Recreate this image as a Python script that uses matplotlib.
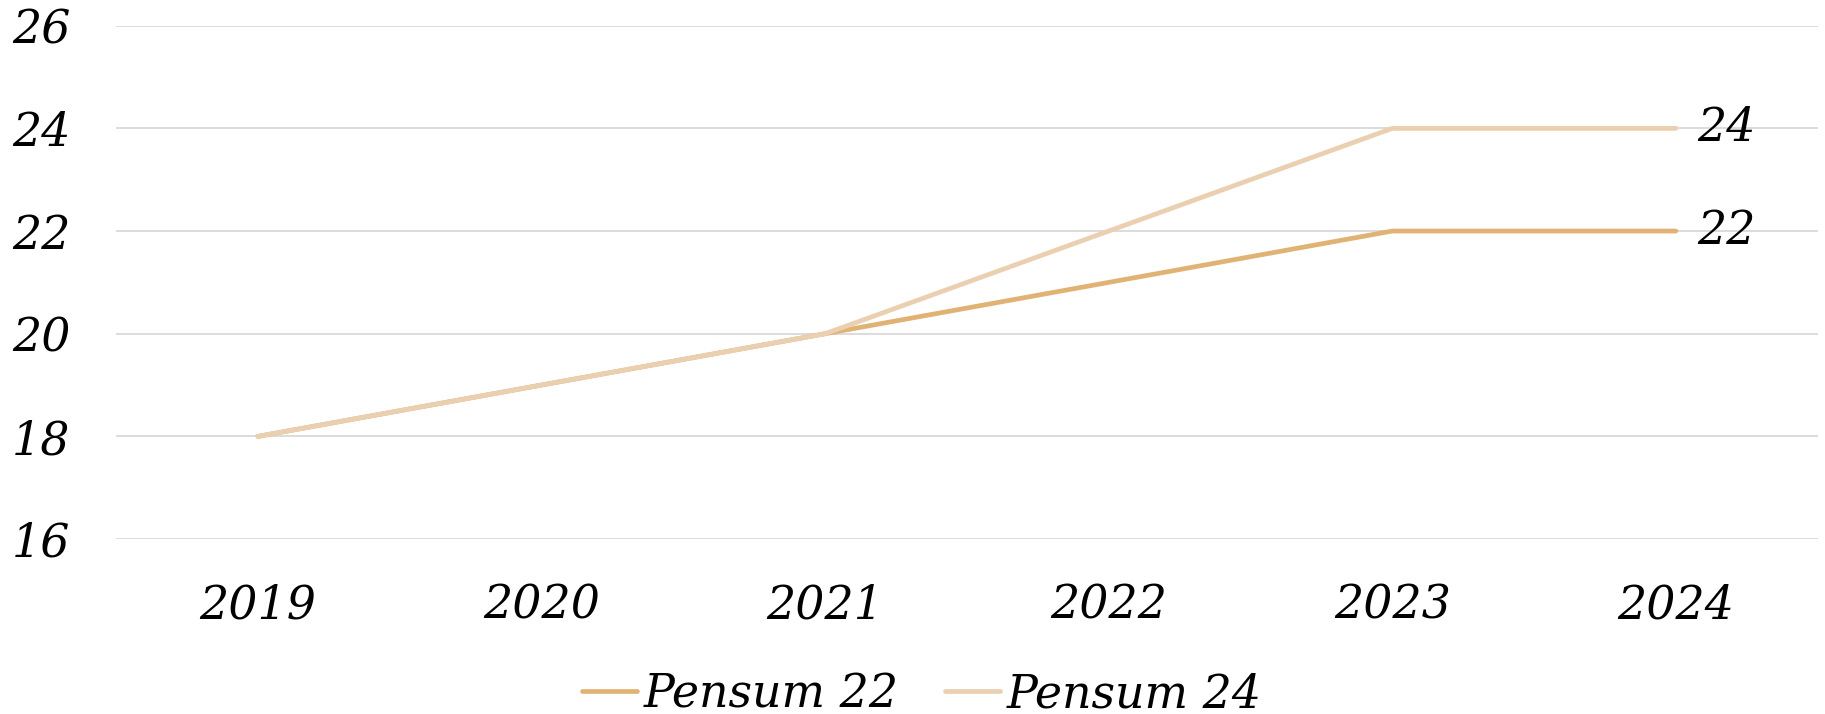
import matplotlib.pyplot as plt

years = ['2019', '2020', '2021', '2022', '2023', '2024']
pensum_22 = [18, 19, 20, 21, 22, 22]
pensum_24 = [18, 19, 20, 22, 24, 24]
y_ticks = [16, 18, 20, 22, 24, 26]

c22 = '#E0B274'
c24 = '#EACFB0'

plt.rcParams['font.family'] = 'DejaVu Serif'
plt.rcParams['font.style'] = 'italic'

fig = plt.figure(figsize=(18.25, 7.14), dpi=100)
ax = fig.add_axes([0.0636, 0.245, 0.9324, 0.719])

x = range(len(years))
ax.plot(x, pensum_22, color=c22, lw=3.4, solid_capstyle='round', label='Pensum 22')
ax.plot(x, pensum_24, color=c24, lw=3.4, solid_capstyle='round', label='Pensum 24')

# end labels
ax.annotate(str(pensum_24[-1]), (x[-1], pensum_24[-1]), xytext=(15, 0),
            textcoords='offset points', va='center', ha='left', fontsize=33)
ax.annotate(str(pensum_22[-1]), (x[-1], pensum_22[-1]), xytext=(15, 0),
            textcoords='offset points', va='center', ha='left', fontsize=33)

ax.set_xlim(-0.5, 5.5)
ax.set_ylim(16, 26)
ax.set_yticks(y_ticks)
ax.set_xticks(list(x))
ax.set_xticklabels(years)
ax.tick_params(axis='both', length=0, labelsize=33)
ax.tick_params(axis='x', pad=32)
ax.tick_params(axis='y', pad=75)
for lbl in ax.get_yticklabels():
    lbl.set_horizontalalignment('left')
ax.grid(axis='y', color='#D9D9D9', lw=1.3)
ax.set_axisbelow(True)
for s in ax.spines.values():
    s.set_visible(False)

fig.legend(loc='lower center', bbox_to_anchor=(0.505, -0.062), ncol=2, frameon=False,
           fontsize=33, handlelength=1.2, handletextpad=0.15, columnspacing=1.0)

fig.savefig('out.png', dpi=100)
